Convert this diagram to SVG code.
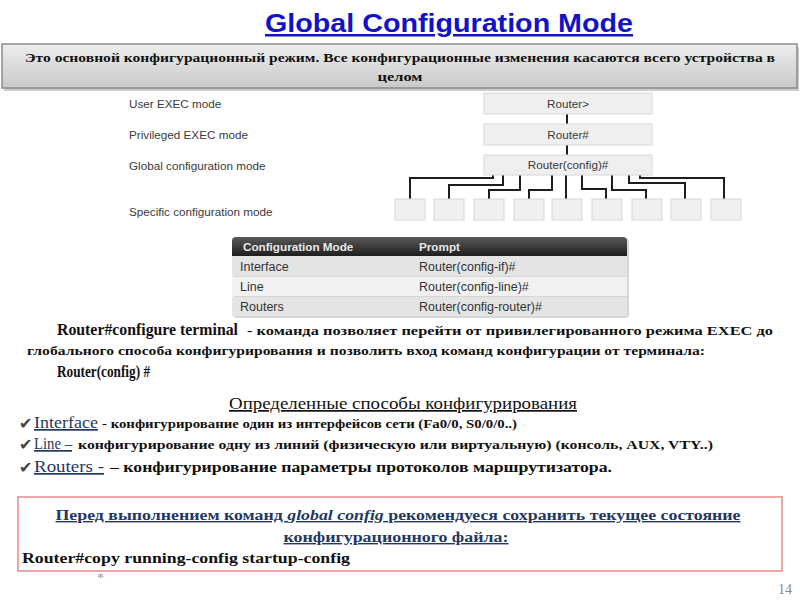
<svg xmlns="http://www.w3.org/2000/svg" width="800" height="600" viewBox="0 0 800 600">
<defs>
<linearGradient id="ban" x1="0" y1="0" x2="0" y2="1"><stop offset="0" stop-color="#ededed"/><stop offset="1" stop-color="#c9c9c9"/></linearGradient>
<linearGradient id="hdr" x1="0" y1="0" x2="0" y2="1"><stop offset="0" stop-color="#5a5a5a"/><stop offset="1" stop-color="#1e1e1e"/></linearGradient>
<style>
.sans{font-family:"Liberation Sans",Arial,sans-serif}
.serif{font-family:"Liberation Serif","Times New Roman",serif}
.lbl{font-family:"Liberation Sans",Arial,sans-serif;font-size:11.7px;fill:#3a3a3a}
.tl{font-family:"Liberation Sans",Arial,sans-serif;font-size:12.5px;fill:#333}
.box{fill:#efefef;stroke:#d8d8d8;stroke-width:1}
.conn{fill:none;stroke:#1e1e1e;stroke-width:2}
.b13{font-family:"Liberation Serif","Times New Roman",serif;font-weight:bold;font-size:13px;fill:#111}
.navy{fill:#1f3864}
.chk{font-family:"DejaVu Sans",sans-serif;font-size:16px;fill:#444}
</style>
</defs>
<rect width="800" height="600" fill="#fff"/>

<text x="449" y="32" text-anchor="middle" class="sans" font-weight="bold" font-size="25" fill="#1212c8" text-decoration="underline" textLength="368" lengthAdjust="spacingAndGlyphs">Global Configuration Mode</text>

<g id="banner">
<rect x="4" y="47" width="795" height="44" fill="#9a9a9a" opacity="0.5"/>
<rect x="2" y="44" width="795" height="44" fill="url(#ban)" stroke="#8a8a8a" stroke-width="1.5"/>
<text x="400" y="62" text-anchor="middle" class="b13" textLength="750" lengthAdjust="spacingAndGlyphs">Это основной конфигурационный режим. Все конфигурационные изменения касаются всего устройства в</text>
<text x="400" y="81" text-anchor="middle" class="b13" textLength="45" lengthAdjust="spacingAndGlyphs">целом</text>
</g>

<g id="labels">
<text x="129" y="108" class="lbl">User EXEC mode</text>
<text x="129" y="139" class="lbl">Privileged EXEC mode</text>
<text x="129" y="170" class="lbl">Global configuration mode</text>
<text x="129" y="216" class="lbl">Specific configuration mode</text>
</g>

<g id="connectors">
<line class="conn" x1="567" y1="114" x2="567" y2="124"/>
<line class="conn" x1="567" y1="145" x2="567" y2="155"/>
<polyline class="conn" points="493,175 493,178 410,178 410,199"/>
<polyline class="conn" points="503,175 503,185 449,185 449,199"/>
<polyline class="conn" points="520,175 520,190 489,190 489,199"/>
<polyline class="conn" points="552,175 552,190 529,190 529,199"/>
<polyline class="conn" points="566,175 566,199"/>
<polyline class="conn" points="582,175 582,189 606,189 606,199"/>
<polyline class="conn" points="612,175 612,190 646,190 646,199"/>
<polyline class="conn" points="629,175 629,183 685,183 685,199"/>
<polyline class="conn" points="640,175 640,178 724,178 724,199"/>
</g>

<g id="n-user"><rect class="box" x="484" y="93" width="168" height="21"/><text x="568" y="108" text-anchor="middle" class="lbl">Router&gt;</text></g>
<g id="n-priv"><rect class="box" x="484" y="124" width="168" height="21"/><text x="568" y="139" text-anchor="middle" class="lbl">Router#</text></g>
<g id="n-global"><rect class="box" x="484" y="155" width="168" height="20"/><text x="568" y="169" text-anchor="middle" class="lbl">Router(config)#</text></g>
<g id="n-s1"><rect class="box" x="395" y="199" width="30" height="21"/></g>
<g id="n-s2"><rect class="box" x="434" y="199" width="30" height="21"/></g>
<g id="n-s3"><rect class="box" x="474" y="199" width="30" height="21"/></g>
<g id="n-s4"><rect class="box" x="514" y="199" width="30" height="21"/></g>
<g id="n-s5"><rect class="box" x="552" y="199" width="30" height="21"/></g>
<g id="n-s6"><rect class="box" x="592" y="199" width="30" height="21"/></g>
<g id="n-s7"><rect class="box" x="632" y="199" width="30" height="21"/></g>
<g id="n-s8"><rect class="box" x="671" y="199" width="30" height="21"/></g>
<g id="n-s9"><rect class="box" x="711" y="199" width="30" height="21"/></g>

<g id="table">
<rect x="233" y="238" width="396" height="80" rx="4" fill="#bbb" opacity="0.6"/>
<path d="M232,256 V241 a4,4 0 0 1 4,-4 H623 a4,4 0 0 1 4,4 V256 Z" fill="url(#hdr)"/>
<rect x="232" y="256" width="395" height="20" fill="#e4e4e4"/>
<rect x="232" y="277" width="395" height="19" fill="#f1f1f1"/>
<rect x="232" y="297" width="395" height="19" fill="#e4e4e4"/>
<text x="243" y="251" class="sans" font-size="11.7" font-weight="bold" fill="#e8e8e8">Configuration Mode</text>
<text x="419" y="251" class="sans" font-size="11.7" font-weight="bold" fill="#e8e8e8">Prompt</text>
<text x="240" y="271" class="tl">Interface</text>
<text x="419" y="271" class="tl">Router(config-if)#</text>
<text x="240" y="291" class="tl">Line</text>
<text x="419" y="291" class="tl">Router(config-line)#</text>
<text x="240" y="311" class="tl">Routers</text>
<text x="419" y="311" class="tl">Router(config-router)#</text>
</g>

<g id="body">
<text x="57" y="335" class="serif" font-weight="bold" font-size="16" fill="#111" textLength="181" lengthAdjust="spacingAndGlyphs">Router#configure terminal</text>
<text x="247" y="335" class="b13" textLength="526" lengthAdjust="spacingAndGlyphs">- команда позволяет перейти от привилегированного режима EXEC до</text>
<text x="27" y="355" class="b13" textLength="678" lengthAdjust="spacingAndGlyphs">глобального способа конфигурирования  и позволить вход команд конфигурации от терминала:</text>
<text x="57" y="377" class="serif" font-weight="bold" font-size="16" fill="#111" textLength="93" lengthAdjust="spacingAndGlyphs">Router(config) #</text>
<text x="403" y="409" text-anchor="middle" class="serif" font-size="17" fill="#111" text-decoration="underline" textLength="348" lengthAdjust="spacingAndGlyphs">Определенные способы конфигурирования</text>

<text x="19" y="429" class="chk">✔</text>
<text x="34" y="428" class="serif navy" font-size="17" text-decoration="underline" textLength="64" lengthAdjust="spacingAndGlyphs">Interface</text>
<text x="102" y="428" class="b13" font-size="12.5" textLength="415" lengthAdjust="spacingAndGlyphs">- конфигурирование один из интерфейсов сети (Fa0/0, S0/0/0..)</text>

<text x="19" y="450" class="chk">✔</text>
<text x="34" y="449" class="serif navy" font-size="17" text-decoration="underline" textLength="38" lengthAdjust="spacingAndGlyphs">Line –</text>
<text x="78" y="449" class="b13" font-size="12.5" textLength="635" lengthAdjust="spacingAndGlyphs">конфигурирование  одну из линий (физическую или виртуальную) (консоль, AUX, VTY..)</text>

<text x="19" y="473" class="chk">✔</text>
<text x="34" y="472" class="serif navy" font-size="17" text-decoration="underline" textLength="70" lengthAdjust="spacingAndGlyphs">Routers -</text>
<text x="110" y="472" class="serif" font-weight="bold" font-size="15" fill="#111" textLength="502" lengthAdjust="spacingAndGlyphs">– конфигурирование параметры  протоколов маршрутизатора.</text>
</g>

<g id="note">
<rect x="18" y="497" width="764" height="74" fill="#fff" stroke="#e58a8a" stroke-width="1.5"/>
<text x="398" y="520" text-anchor="middle" class="serif navy" font-weight="bold" font-size="14" text-decoration="underline" textLength="685" lengthAdjust="spacingAndGlyphs">Перед выполнением команд <tspan font-style="italic">global config</tspan> рекомендуеся сохранить текущее состояние</text>
<text x="396" y="542" text-anchor="middle" class="serif navy" font-weight="bold" font-size="14" text-decoration="underline" textLength="225" lengthAdjust="spacingAndGlyphs">конфигурационного файла:</text>
<text x="22" y="563" class="serif" font-weight="bold" font-size="15" fill="#111" textLength="328" lengthAdjust="spacingAndGlyphs">Router#copy running-config startup-config</text>
</g>

<text x="97" y="583" class="serif" font-size="14" fill="#8a9ab0">*</text>
<text x="778" y="594" class="serif" font-size="14" fill="#8a8a8a">14</text>
</svg>
